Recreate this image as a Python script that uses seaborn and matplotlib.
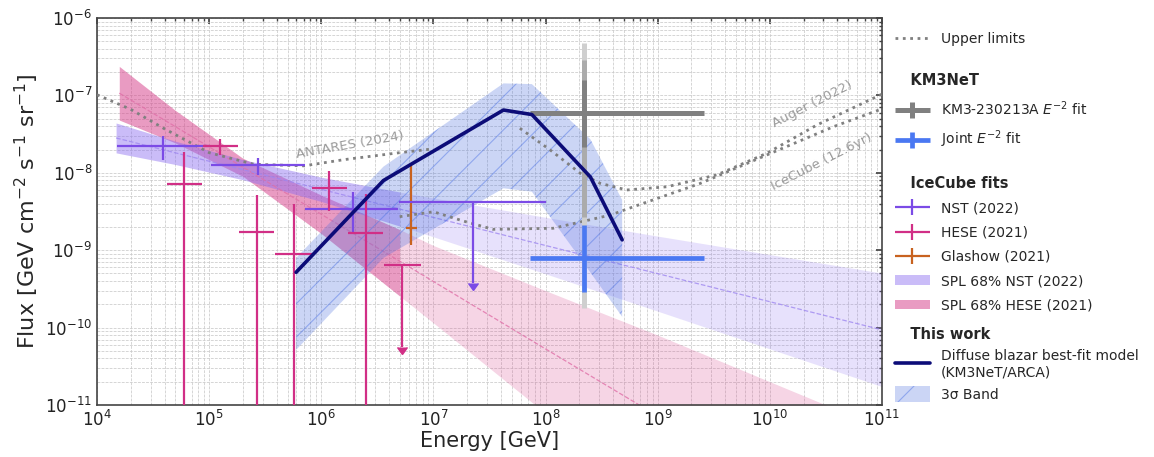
import numpy as np
import pandas as pd
import matplotlib
matplotlib.use("Agg")
import matplotlib.pyplot as plt
import matplotlib.lines as mlines
from matplotlib.container import ErrorbarContainer
from matplotlib.legend_handler import HandlerErrorbar
import seaborn as sns

# ------------------------------------------------------------------ data
# IceCube NST (2022) segmented fit
nst_E = [3.9e4, 2.7e5, 1.9e6]
nst_Elo = [1.5e4, 1.04e5, 7.2e5]
nst_Ehi = [1.02e5, 7.2e5, 4.8e6]
nst_F = [2.24e-8, 1.25e-8, 3.4e-9]
nst_Flo = [1.46e-8, 9.4e-9, 1.67e-9]
nst_Fhi = [3.0e-8, 1.55e-8, 5.65e-9]
nst_ul_E = [2.24e7]
nst_ul_Elo = [4.9e6]
nst_ul_Ehi = [1.0e8]
nst_ul_F = [4.16e-9]
nst_ul_tip = [3.8e-10]

# IceCube HESE (2021) segmented fit (1e-13 = compatible with zero)
hese_E = [1.26e5, 5.97e4, 2.66e5, 5.69e5, 1.18e6, 2.49e6]
hese_Elo = [8.8e4, 4.21e4, 1.85e5, 3.87e5, 8.22e5, 1.72e6]
hese_Ehi = [1.81e5, 8.65e4, 3.79e5, 8.22e5, 1.69e6, 3.58e6]
hese_F = [2.2e-8, 7.2e-9, 1.73e-9, 8.9e-10, 6.4e-9, 1.67e-9]
hese_Flo = [1.70e-8, 1e-13, 1e-13, 1e-13, 3.24e-9, 1e-13]
hese_Fhi = [2.74e-8, 1.87e-8, 5.16e-9, 3.95e-9, 1.05e-8, 5.32e-9]
hese_ul_E = [5.25e6]
hese_ul_Elo = [3.66e6]
hese_ul_Ehi = [7.71e6]
hese_ul_F = [6.4e-10]
hese_ul_tip = [5.66e-11]

# IceCube Glashow (2021)
gl_E = [6.3e6]
gl_Elo = [5.71e6]
gl_Ehi = [7.11e6]
gl_F = [1.95e-9]
gl_Flo = [1.17e-9]
gl_Fhi = [1.33e-8]

# SPL 68% bands
nst_band_E = [1.48e4, 5.0e4, 2.0e5, 1.0e6, 5.0e6, 1.0e7, 1.0e8, 1.0e9, 1.0e10, 1.0e11]
nst_band_hi = [4.40e-8, 2.56e-8, 1.48e-8, 8.77e-9, 5.65e-9, 4.72e-9, 2.66e-9, 1.52e-9, 8.77e-10, 5.06e-10]
nst_band_lo = [1.81e-8, 1.28e-8, 8.13e-9, 4.26e-9, 2.05e-9, 1.49e-9, 4.95e-10, 1.63e-10, 5.31e-11, 1.73e-11]
nst_band_mid = [2.82e-8, 1.81e-8, 1.10e-8, 6.11e-9, 3.40e-9, 2.65e-9, 1.15e-9, 4.98e-10, 2.16e-10, 9.35e-11]

hese_band_E = [1.58e4, 5.0e4, 2.0e5, 1.0e6, 5.0e6, 1.0e7, 1.0e8, 1.0e9, 1.0e10, 1.0e11]
hese_band_hi = [2.37e-7, 6.4e-8, 1.54e-8, 5.15e-9, 1.85e-9, 1.15e-9, 3.0e-10, 8.0e-11, 2.0e-11, 5.0e-12]
hese_band_lo = [4.8e-8, 2.43e-8, 9.0e-9, 1.64e-9, 2.56e-10, 1.15e-10, 7.8e-12, 5.2e-13, 3.5e-14, 2.4e-15]
hese_band_mid = [1.07e-7, 3.95e-8, 1.18e-8, 2.91e-9, 7.21e-10, 3.94e-10, 5.3e-11, 7.2e-12, 9.7e-13, 1.3e-13]
fit_range_end = 5.0e6

# KM3-230213A and joint E^-2 fits
km3_E = [2.2e8]
km3_Elo = [7.2e7]
km3_Ehi = [2.6e9]
km3_F = [5.87e-8]
km3_1s = [2.17e-8, 1.58e-7]
km3_2s = [2.71e-9, 2.86e-7]
km3_3s = [1.77e-10, 4.71e-7]
joint_F = [7.85e-10]
joint_Flo = [2.91e-10]
joint_Fhi = [2.12e-9]

# Diffuse blazar model (this work)
blz_E = [5.96e5, 3.58e6, 4.21e7, 7.55e7, 2.51e8, 4.82e8]
blz_F = [5.18e-10, 7.94e-9, 6.47e-8, 5.66e-8, 8.83e-9, 1.36e-9]
blz_hi = [7.93e-10, 1.20e-8, 1.43e-7, 1.40e-7, 2.71e-8, 4.46e-9]
blz_lo = [5.14e-11, 7.93e-10, 6.31e-9, 5.70e-9, 5.16e-10, 1.38e-10]

# Upper limits
antares_E = [1e4, 2e4, 4e4, 1e5, 2.5e5, 7e5, 1.6e6, 5e6, 1e7]
antares_F = [1.02e-7, 6.6e-8, 3.7e-8, 1.82e-8, 1.29e-8, 1.23e-8, 1.48e-8, 1.82e-8, 2.04e-8]
icecube_E = [5.0e6, 1.0e7, 1.85e7, 3.4e7, 1.17e8, 3.8e8, 6.1e8, 2.4e9, 9.4e9, 3.7e10, 1.03e11]
icecube_F = [2.71e-9, 3.14e-9, 2.38e-9, 1.86e-9, 1.92e-9, 2.85e-9, 3.65e-9, 7.3e-9, 1.7e-8, 3.95e-8, 6.8e-8]
auger_E = [5.9e7, 1.1e8, 2.04e8, 3.07e8, 5.3e8, 1.21e9, 3.37e9, 9.4e9, 2.63e10, 1.03e11]
auger_F = [3.76e-8, 1.97e-8, 9.86e-9, 7.31e-9, 6.0e-9, 6.6e-9, 9.4e-9, 1.79e-8, 4.15e-8, 1.06e-7]

# ------------------------------------------------------------------ style
sns.set_theme(style="white")
plt.rcParams['font.family'] = ['DejaVu Sans']
plt.rcParams['hatch.linewidth'] = 0.8

c_nst = '#7b4be6'
c_hese = '#d12f86'
c_gl = '#c8621f'
c_navy = '#0c0c78'
c_joint = '#4a78f2'
c_ul = '#808080'

fig = plt.figure(figsize=(11.54, 4.57), dpi=100)
ax = fig.add_axes([97 / 1154, 52 / 457, 785 / 1154, 387 / 457])
ax.set_xscale('log')
ax.set_yscale('log')
ax.set_xlim(1e4, 1e11)
ax.set_ylim(1e-11, 1e-6)

# ---- SPL bands (darker inside fitted range, lighter extrapolation)
def split_band(E, lo, hi):
    E = np.asarray(E); lo = np.asarray(lo); hi = np.asarray(hi)
    inside = E <= fit_range_end
    outside = E >= fit_range_end
    return (E[inside], lo[inside], hi[inside]), (E[outside], lo[outside], hi[outside])

(ni, no) = split_band(nst_band_E, nst_band_lo, nst_band_hi)
(hi_, ho) = split_band(hese_band_E, hese_band_lo, hese_band_hi)

hese_dark = ax.fill_between(*hi_, color='#d6408a', alpha=0.52, lw=0, zorder=1)
ax.fill_between(*ho, color='#d6408a', alpha=0.22, lw=0, zorder=1)
nst_dark = ax.fill_between(*ni, color='#8a6cf0', alpha=0.45, lw=0, zorder=1.5)
ax.fill_between(*no, color='#8a6cf0', alpha=0.2, lw=0, zorder=1.5)
ax.plot(hese_band_E, hese_band_mid, ls='--', lw=0.9, color='#e070a8', alpha=0.8, zorder=1.6)
ax.plot(nst_band_E, nst_band_mid, ls='--', lw=0.9, color='#9f88f0', alpha=0.8, zorder=1.6)

# ---- 3 sigma blazar band
band = ax.fill_between(blz_E, blz_lo, blz_hi, facecolor=(0.27, 0.42, 0.87, 0.28),
                       edgecolor=(0.33, 0.47, 0.90, 0.5), hatch='/', lw=0, zorder=3)

# ---- upper-limit curves
df_ul = pd.concat([
    pd.DataFrame({'E': antares_E, 'F': antares_F, 'exp': 'ANTARES'}),
    pd.DataFrame({'E': icecube_E, 'F': icecube_F, 'exp': 'IceCube'}),
    pd.DataFrame({'E': auger_E, 'F': auger_F, 'exp': 'Auger'}),
])
sns.lineplot(data=df_ul, x='E', y='F', units='exp', estimator=None, sort=False,
             color=c_ul, ls=':', lw=2, ax=ax, legend=False, zorder=4)
ul_handle = mlines.Line2D([], [], color=c_ul, ls=':', lw=2)

txt_kw = dict(color='#9a9a9a', fontsize=9.5, ha='center', va='center', rotation_mode='anchor')
ax.text(1.8e6, 2.25e-8, 'ANTARES (2024)', rotation=10, **txt_kw)
ax.text(2.4e10, 7.6e-8, 'Auger (2022)', rotation=27, **txt_kw)
ax.text(2.9e10, 1.4e-8, 'IceCube (12.6yr)', rotation=27, **txt_kw)

# ---- blazar best-fit
sns.lineplot(x=blz_E, y=blz_F, color=c_navy, lw=2.6, sort=False, estimator=None, ax=ax,
             zorder=8, solid_capstyle='round', solid_joinstyle='round')
blz_handle = mlines.Line2D([], [], color=c_navy, lw=2.6)

# ---- KM3NeT points
kE = np.array(km3_E); kF = np.array(km3_F)
xerr_k = [kE - np.array(km3_Elo), np.array(km3_Ehi) - kE]
ax.errorbar(kE, kF, yerr=[kF - km3_3s[0], km3_3s[1] - kF], fmt='none', ecolor='#cfcfcf', elinewidth=3.6, zorder=5)
ax.errorbar(kE, kF, yerr=[kF - km3_2s[0], km3_2s[1] - kF], fmt='none', ecolor='#ababab', elinewidth=3.6, zorder=5.1)
km3_h = ax.errorbar(kE, kF, xerr=xerr_k, yerr=[kF - km3_1s[0], km3_1s[1] - kF], fmt='none',
                    ecolor='#808080', elinewidth=3.6, zorder=5.2)
jF = np.array(joint_F)
joint_h = ax.errorbar(kE, jF, xerr=xerr_k, yerr=[jF - joint_Flo, np.array(joint_Fhi) - jF], fmt='none',
                      ecolor=c_joint, elinewidth=3.4, zorder=5.3)

# ---- IceCube segmented fits
def ebar(E, Elo, Ehi, F, Flo, Fhi, color):
    E = np.array(E); F = np.array(F)
    return ax.errorbar(E, F, xerr=[E - Elo, np.array(Ehi) - E], yerr=[F - Flo, np.array(Fhi) - F],
                       fmt='none', ecolor=color, elinewidth=1.6, zorder=7)

nst_h = ebar(nst_E, nst_Elo, nst_Ehi, nst_F, nst_Flo, nst_Fhi, c_nst)
hese_h = ebar(hese_E, hese_Elo, hese_Ehi, hese_F, hese_Flo, hese_Fhi, c_hese)
gl_h = ebar(gl_E, gl_Elo, gl_Ehi, gl_F, gl_Flo, gl_Fhi, c_gl)

def ulim(E, Elo, Ehi, F, tip, color):
    E = np.array(E); F = np.array(F)
    ax.errorbar(E, F, xerr=[E - Elo, np.array(Ehi) - E], fmt='none', ecolor=color, elinewidth=1.6, zorder=7)
    ax.vlines(E, tip, F, color=color, lw=1.6, zorder=7)
    ax.plot(E, tip, ls='none', marker=mlines.CARETDOWNBASE, ms=7, color=color, zorder=7)

ulim(nst_ul_E, nst_ul_Elo, nst_ul_Ehi, nst_ul_F, nst_ul_tip, c_nst)
ulim(hese_ul_E, hese_ul_Elo, hese_ul_Ehi, hese_ul_F, hese_ul_tip, c_hese)

# ---- axes cosmetics
ax.grid(True, which='both', ls='--', lw=0.55, color='#cacaca')
ax.set_axisbelow(True)
for s in ax.spines.values():
    s.set_color('#444444')
    s.set_linewidth(1.2)
ax.tick_params(which='both', direction='in', top=True, right=True, colors='#444444', labelcolor='#222222')
ax.tick_params(which='major', length=4, labelsize=12)
ax.tick_params(which='minor', length=2)
ax.set_xlabel('Energy [GeV]', fontsize=15, labelpad=1)
ax.set_ylabel(r'Flux [GeV cm$^{-2}$ s$^{-1}$ sr$^{-1}$]', fontsize=16, labelpad=3)

# ---- legends
hmap = {ErrorbarContainer: HandlerErrorbar(xerr_size=1.25, yerr_size=0.58)}
lkw = dict(loc='upper left', frameon=False, fontsize=10, handlelength=2.5, handletextpad=0.8,
           borderpad=0, borderaxespad=0, alignment='left', handler_map=hmap,
           title_fontproperties={'weight': 'bold', 'size': 10.5})
x0 = 895 / 1154
fig.legend([ul_handle], ['Upper limits'], bbox_to_anchor=(x0, 1 - 32 / 457), **lkw)
fig.legend([km3_h, joint_h], [r'KM3-230213A $E^{-2}$ fit', r'Joint $E^{-2}$ fit'],
           title='   KM3NeT', bbox_to_anchor=(x0, 1 - 73 / 457), labelspacing=0.8, **lkw)
fig.legend([nst_h, hese_h, gl_h, nst_dark, hese_dark],
           ['NST (2022)', 'HESE (2021)', 'Glashow (2021)', 'SPL 68% NST (2022)', 'SPL 68% HESE (2021)'],
           title='   IceCube fits', bbox_to_anchor=(x0, 1 - 176 / 457), labelspacing=0.74, **lkw)
fig.legend([blz_handle, band], ['Diffuse blazar best-fit model\n(KM3NeT/ARCA)', '3σ Band'],
           title='   This work', bbox_to_anchor=(x0, 1 - 327 / 457), labelspacing=0.5,
           handleheight=1.35, **lkw)

fig.savefig('out.png', dpi=100)
